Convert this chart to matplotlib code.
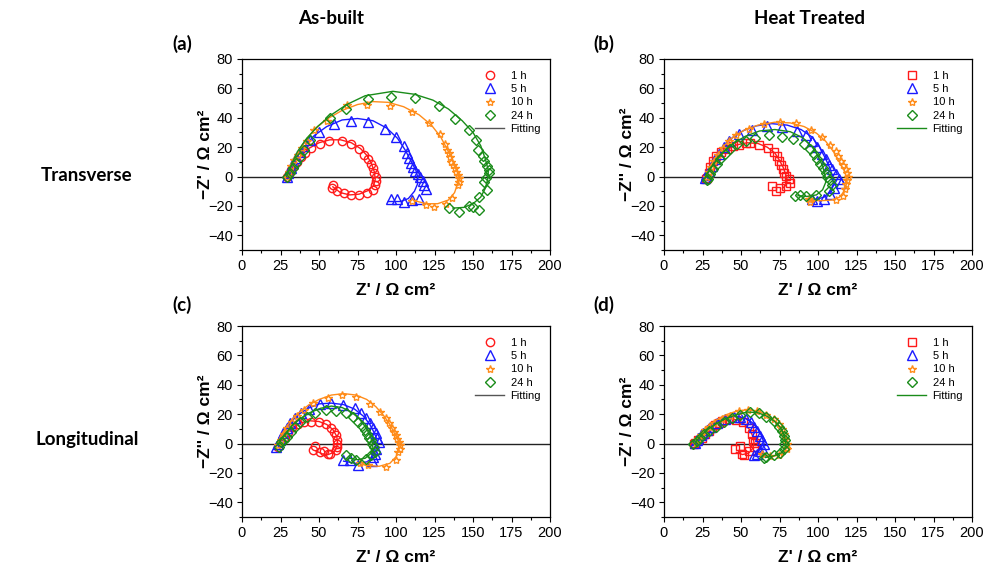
import matplotlib.pyplot as plt
from matplotlib.lines import Line2D
from matplotlib.ticker import MultipleLocator

# ---- (a) As-built, transverse ----
a_1h_x = [29.5, 30.5, 32, 33.5, 35.5, 38, 41, 45, 50.5, 56.5, 65, 71, 76, 79.5, 81.8, 84, 85.2, 86, 86.7, 86.8, 86.5, 85, 81, 76, 71, 66.2, 61.4, 58.2, 59.3]
a_1h_y = [0, 1.5, 4.5, 7, 10, 13, 16, 19.5, 22, 24, 24, 22, 19, 15, 12, 8.5, 5.5, 2.5, 0, -3, -6, -9, -11, -12.5, -12.5, -11.4, -10, -8, -5.7]
a_5h_x = [29, 30, 31.5, 33, 35, 37.5, 40.5, 44, 50, 59.5, 70.5, 82, 93, 100, 105, 107, 108.5, 109.5, 111, 112.3, 114, 115.7, 117.5, 118.5, 119.2, 115, 110.5, 105.5, 100.5, 97]
a_5h_y = [0, 2.5, 5.5, 9, 12.5, 16.5, 20.5, 25, 30.5, 36, 38, 37.2, 32.5, 27, 20.6, 16, 12.5, 9.5, 6.8, 4, 1.8, 0, -3, -5.7, -8.6, -15.5, -16, -17.5, -15.3, -15.3]
a_10h_x = [29, 30.5, 32, 34, 36.5, 39, 42, 46.8, 55, 68.3, 81.3, 95.9, 110.3, 121.3, 128.7, 132, 133, 134.3, 135.1, 136, 136.9, 138, 139, 140, 141.2, 140.7, 140, 136.2, 132.5, 124.4, 119.6, 110.6]
a_10h_y = [0, 3, 7, 11, 15, 19.5, 24, 31.8, 38, 48.4, 48.9, 48.2, 43.6, 36.4, 28.9, 22, 18, 15.8, 13, 10.2, 8, 5.7, 3.4, 1.1, -1.1, -3.4, -6, -14.8, -18.9, -21, -19.3, -16.4]
a_24h_x = [29.5, 31, 33, 35, 37.5, 40, 44, 57.4, 67.3, 81.8, 96.9, 112.4, 128.2, 138.5, 147.6, 151.9, 153, 156.2, 157.3, 159.4, 160.1, 160.5, 158.4, 157.3, 159.4, 154, 153.6, 149.7, 147.6, 141, 134.2]
a_24h_y = [0, 2.5, 5.5, 9, 13, 18, 25, 40, 45.7, 52.6, 54.4, 53.3, 48, 39.3, 32, 24.7, 18.3, 13.7, 10.3, 7.3, 4.5, 2.3, -1.1, -4, -9.1, -13.7, -22.9, -20.6, -20.1, -24, -21.3]
a_1h_fx = [30, 32, 35, 39, 44, 50, 57, 64, 71, 77, 81, 84, 86, 86.5, 85.5, 82, 76, 70, 64, 59]
a_1h_fy = [0, 5, 10, 15, 19.5, 23, 25, 25, 23, 19, 14.5, 9, 3, -2, -6, -9.5, -12, -12.5, -11, -7]
a_5h_fx = [29, 32, 36, 41, 47, 55, 65, 75, 85, 94, 101, 106, 110, 113, 114, 114, 112, 108, 103, 95]
a_5h_fy = [0, 7, 14, 21, 28, 34, 38.5, 39.5, 38, 33, 26, 18, 10, 4, 0, -5, -10, -15, -17, -17]
a_10h_fx = [29, 32, 36, 41, 47, 55, 65, 75, 85, 95, 105, 115, 123, 129, 133, 137, 139.5, 140.5, 140, 138, 134, 127, 120, 112]
a_10h_fy = [0, 8, 16, 24, 32, 39, 45, 49, 51, 50.5, 47.5, 42, 35, 27, 19, 11, 4, 0, -5, -11, -16, -18.5, -18.5, -16.5]
a_24h_fx = [29, 32, 36, 42, 49, 58, 68, 80, 98, 112, 124, 134, 143, 150, 155, 158, 160, 159.5, 158, 155, 150, 144, 137]
a_24h_fy = [0, 8, 17, 26, 34, 42, 49, 55, 58, 56, 52, 46, 38, 30, 21, 12, 4, -2, -8, -14, -18.5, -21, -21.5]

# ---- (b) Heat treated, transverse ----
b_1h_x = [27.5, 28, 28.9, 30, 31.7, 34, 37, 40.8, 44.5, 48.4, 53, 55.6, 61.5, 67.3, 71.2, 73.4, 74.5, 76, 77.3, 78.2, 79.5, 81, 82, 79, 75.6, 73, 70]
b_1h_y = [-2, -0.7, 2.7, 6.2, 10.7, 14, 16.5, 18.7, 20.5, 21.5, 22.5, 23, 21.5, 19.4, 16.9, 14.2, 10.7, 7.8, 5, 2.7, 0.5, -1.8, -4.3, -6.6, -7.8, -10, -6.6]
b_5h_x = [26.7, 27.5, 28.9, 31, 33.2, 36, 38.7, 41.9, 48.4, 57, 66.9, 76.7, 86.4, 91.9, 96.2, 99.5, 102.7, 104.9, 107, 109.2, 111.4, 113.6, 114.7, 110.3, 108.1, 103.8, 99.5, 96.2]
b_5h_y = [-0.7, 1, 3.9, 7.3, 11.9, 15.3, 19.9, 24.5, 29, 32, 34.7, 33.6, 31.3, 28.3, 24.5, 19.9, 15.3, 11.9, 7.8, 5, 1.6, -1.8, -4.6, -7.5, -12.1, -15.5, -16.7, -15.5]
b_10h_x = [27.8, 29, 30.5, 32.5, 35, 38, 42, 47, 55, 64.7, 75.6, 86, 95.5, 102.3, 108.1, 111.4, 113.2, 114.7, 116.4, 117.9, 119, 119.4, 119, 118.3, 117.5, 116.4, 111.4, 95.1, 94]
b_10h_y = [0, 3, 6.5, 10.5, 15, 19.5, 24, 28.5, 32.5, 35.9, 37, 36.3, 31.8, 26.7, 21.5, 17.6, 14.2, 10.7, 7.8, 5, 2.7, 0, -2.3, -5.3, -8.2, -13.3, -16, -17.4, -15]
b_24h_x = [27.8, 28.5, 30, 32.1, 34.3, 36.5, 39.7, 43, 47.3, 53, 59.3, 68, 76.7, 83.8, 90.8, 94.5, 97.3, 99.5, 101.6, 103.4, 104.9, 106, 108, 109.2, 107, 98.4, 92, 88.6, 85.3]
b_24h_y = [-2.5, -1.4, 1.6, 5, 8.5, 11.9, 15.3, 18.7, 22.2, 24.5, 26.3, 28.3, 27.2, 25.6, 22.2, 19, 15.3, 11.9, 8.5, 5.5, 2.7, 0, -2.5, -5.9, -9.8, -12.8, -13.5, -12.8, -13.3]
b_1h_fx = [27, 29, 32, 36, 41, 47, 54, 61, 67, 72, 75, 77.5, 79, 80, 79, 77]
b_1h_fy = [0, 5, 10, 14.5, 18.5, 21.5, 23, 22.5, 20, 16, 11, 6, 1.5, -2.5, -6, -8]
b_5h_fx = [27, 30, 34, 39, 45, 52, 60, 70, 80, 89, 96, 101, 105, 108, 109.5, 110, 108, 104, 99, 93]
b_5h_fy = [0, 7, 14, 21, 27, 31.5, 34.5, 36, 35, 32, 27, 20, 12, 5, 0, -5, -10, -14, -15.5, -15]
b_10h_fx = [27, 30, 34, 39, 45, 52, 61, 72, 82, 91, 99, 105, 110, 114, 117, 118.5, 118.5, 117, 114, 109, 101, 94]
b_10h_fy = [0, 7, 14, 21, 27, 31.5, 35, 37, 36.5, 34, 29.5, 24, 17, 10, 4, 0, -5, -10, -14, -16, -16.5, -16]
b_24h_fx = [27, 30, 34, 39, 45, 53, 62, 72, 82, 90, 96, 100, 103, 104.5, 105, 103, 99, 93, 87]
b_24h_fy = [0, 5, 11, 17, 22.5, 27.5, 31, 32, 30.5, 26.5, 20.5, 14, 7, 1, -4, -9, -12.5, -13.5, -13]

# ---- (c) As-built, longitudinal ----
c_1h_x = [23.5, 25.4, 27.6, 29.7, 32.5, 36.2, 40.5, 44.8, 49.8, 54.5, 57.8, 59.9, 61, 62, 62, 61.7, 61.3, 57, 55.6, 53.4, 50.5, 46.2, 47.6]
c_1h_y = [-2.3, 1.1, 4.6, 8, 11, 13.3, 14.9, 15, 14.9, 13.3, 10.3, 8, 5.7, 2.3, -0.5, -2.5, -4.6, -7.3, -6.9, -5, -5.7, -4.6, -1.6]
c_5h_x = [22.4, 23.5, 24.6, 26.8, 29, 31, 34.3, 38.6, 43.6, 50.5, 58, 65.6, 73.1, 77.5, 80.7, 82.9, 85, 86.7, 87.6, 88.9, 87.2, 86.1, 85, 84.7, 75, 69.9, 65.6]
c_5h_y = [-2.3, 0, 2.3, 6.9, 10.5, 14.2, 17.1, 20.6, 23.3, 27, 27.4, 26.3, 24, 20.6, 17.1, 13.7, 10.3, 6.9, 4.1, 1.1, -3.4, -6.9, -9.1, -12.1, -14.4, -11.4, -11.4]
c_10h_x = [23.5, 25, 27, 29.5, 32.5, 36, 40, 46.2, 55.9, 65.2, 74.2, 82.8, 89.3, 93.6, 95.7, 97.5, 98.4, 99.7, 100.7, 101.8, 102.7, 102.3, 101.2, 100.2, 93.6, 82.1, 76.4]
c_10h_y = [-1, 2.5, 6.5, 10.5, 14.5, 18.5, 22.5, 27.9, 30.9, 32.7, 32, 27, 21.7, 17.1, 13.7, 10.3, 8, 5.7, 3.4, 1.1, -1.1, -3.4, -5.7, -11.4, -16.3, -14.9, -13.5]
c_24h_x = [24.2, 25.5, 27, 28.9, 31.5, 34.5, 37.5, 41.9, 47.2, 54.4, 60.8, 67.3, 72.1, 75.3, 78.1, 79.6, 81.1, 82.4, 83.9, 84.6, 85.4, 86.1, 83.9, 80.7, 74.2, 71, 67.7]
c_24h_y = [-2.3, 1, 2.5, 4.6, 8, 11.5, 14.9, 18.3, 20.6, 22.9, 22.4, 20.6, 18.3, 14.9, 11.9, 9.1, 6.4, 4.1, 2.3, 0, -2.3, -5.7, -8, -10.3, -11, -9.6, -8]
c_1h_fx = [24, 26, 29, 33, 38, 44, 50, 55, 59, 61.5, 62, 61.5, 59.5, 56, 52, 48]
c_1h_fy = [0, 3, 7, 11, 14, 15.5, 15, 13, 9.5, 5, 1, -3, -6, -7.5, -7, -5]
c_5h_fx = [23, 25, 28, 32, 37, 43, 50, 58, 66, 73, 79, 83, 86, 88, 88, 86, 81, 74, 66]
c_5h_fy = [0, 5, 10, 15, 20, 24, 27, 27.5, 26.5, 23.5, 18.5, 13, 7, 1.5, -4, -9, -12.5, -13.5, -12]
c_10h_fx = [23, 25, 28, 32, 37, 43, 50, 58, 66, 74, 81, 87, 92, 96, 99, 101.5, 102, 100, 96, 89, 82, 77]
c_10h_fy = [0, 5, 10, 16, 21, 26, 30, 33, 34, 33, 30, 25, 19, 13, 7, 2, -3, -9, -13.5, -15.5, -15, -14]
c_24h_fx = [24, 26, 29, 33, 38, 44, 51, 58, 65, 71, 76, 80, 83, 84.5, 85, 83.5, 80, 75, 70]
c_24h_fy = [0, 4, 8, 13, 17, 21, 24, 25.5, 24.5, 21.5, 17, 11.5, 6, 1, -3, -7, -10, -11, -10]

# ---- (d) Heat treated, longitudinal ----
d_1h_x = [19.5, 20.2, 22, 24.5, 26.5, 28.9, 31, 33.2, 35.5, 37.6, 41.9, 46.9, 51.2, 54.9, 57.1, 57.8, 59.3, 58.2, 55.5, 52.1, 50.6, 46.3, 49.5]
d_1h_y = [0, 0.7, 2.5, 4.1, 6.5, 8.7, 10.5, 12.8, 14, 15.5, 16.7, 16, 14.4, 10.5, 6.4, 1.8, 0.7, -2.3, -5, -7.8, -6.9, -3.9, -1.6]
d_5h_x = [20.2, 21.3, 22.4, 24, 25.6, 28, 30, 34.3, 39.7, 45.6, 49.5, 53.4, 56.5, 58.6, 60.4, 62.1, 63.6, 65.1, 63.6, 62.5, 60.4, 58.2]
d_5h_y = [0.7, 2.5, 4.1, 6, 7.5, 9.5, 11, 13.7, 16.7, 18.3, 17.8, 16.7, 14.4, 11.4, 8.7, 5.3, 2.3, -0.5, -2.7, -5, -7.3, -7.8]
d_10h_x = [20.5, 22, 24, 26.5, 29, 32.5, 37.6, 43, 48.4, 54.3, 60.4, 66.4, 71.2, 74.5, 76.7, 78.2, 78.8, 80, 79.5, 79.9, 74.5, 69, 63.6]
d_10h_y = [0.5, 3, 6, 9, 11.5, 14, 16.7, 19, 22.4, 22.9, 21.9, 19.7, 16.7, 13.3, 9.8, 6.4, 3, 0, -2.7, -3.9, -7.8, -8.5, -7.3]
d_24h_x = [19.1, 21.7, 23.5, 26, 28.9, 33.5, 38.7, 44, 49.5, 55.6, 61.5, 66.4, 71.2, 74.5, 76.7, 78.2, 78.8, 78.2, 77.7, 75.5, 71.2, 66.4, 64.7]
d_24h_y = [0, 1.8, 4, 6.5, 8.7, 11.5, 14.4, 17.4, 19.7, 21.3, 20.6, 18.3, 15.1, 11.4, 8.2, 5.3, 2.3, -0.5, -3.9, -6.2, -7.8, -9.1, -9.6]
d_1h_fx = [19, 21, 24, 28, 33, 38, 43, 48, 52.5, 56, 58, 58.5, 57.5, 55, 51, 47]
d_1h_fy = [0, 3, 6.5, 10, 13.5, 16, 17, 16, 13, 9, 4, 0, -3.5, -6.5, -7.5, -6]
d_5h_fx = [20, 22, 25, 29, 34, 40, 46, 52, 57, 61, 63.5, 65, 64, 61.5, 58]
d_5h_fy = [0, 4, 8, 11.5, 15, 17.5, 18.5, 17.5, 14.5, 10, 5, 0, -4, -7, -8]
d_10h_fx = [20, 22, 25, 29, 34, 40, 47, 54, 61, 67, 72, 76, 78.5, 79.5, 79, 76.5, 72, 67, 63]
d_10h_fy = [0, 4, 8, 12, 16, 19.5, 22, 23, 22, 19.5, 15.5, 10.5, 5, 0, -4, -7, -8.5, -8.5, -7.5]
d_24h_fx = [20, 22, 25, 29, 34, 40, 47, 54, 61, 67, 72, 75.5, 78, 79, 78.5, 76, 71, 66]
d_24h_fy = [0, 3, 6.5, 10, 13.5, 17, 19.5, 21.5, 21, 18.5, 15, 11, 6, 1, -3.5, -6.5, -8.5, -9.5]

labels = ['1 h', '5 h', '10 h', '24 h']
colors = ['#ff1a1a', '#1a1aff', '#ff8c1a', '#1a8c1a']

plt.rcParams['font.family'] = ['Liberation Sans', 'DejaVu Sans']
W, H = 993, 570
fig = plt.figure(figsize=(W / 100, H / 100), dpi=100)


def panel(left, top, series, fits, first_marker, ylab, fit_color):
    ax = fig.add_axes([left / W, 1 - (top + 191) / H, 308 / W, 191 / H])
    markers = [first_marker, '^', '*', 'D']
    sizes = [6, 6.5, 6, 5]
    handles = []
    for (x, y), (fx, fy), m, ms, c, lab in zip(series, fits, markers, sizes, colors, labels):
        ax.plot(fx, fy, '-', color=c, lw=1)
        ax.plot(x, y, m, ls='none', mfc='none', mec=c, mew=1, ms=ms)
        handles.append(Line2D([], [], marker=m, ls='none', mfc='none', mec=c, mew=1, ms=ms, label=lab))
    handles.append(Line2D([], [], color=fit_color, lw=1, label='Fitting'))
    ax.axhline(0, color='#222222', lw=1, zorder=0)
    ax.set_xlim(0, 200)
    ax.set_ylim(-50, 80)
    ax.xaxis.set_major_locator(MultipleLocator(25))
    ax.xaxis.set_minor_locator(MultipleLocator(12.5))
    ax.yaxis.set_minor_locator(MultipleLocator(10))
    ax.set_yticks([-40, -20, 0, 20, 40, 60, 80])
    ax.tick_params(which='major', direction='out', length=3.5, width=0.8, labelsize=10.5, pad=3)
    ax.tick_params(which='minor', direction='out', length=2, width=0.8)
    for s in ax.spines.values():
        s.set_linewidth(0.9)
    ax.set_xlabel("Z' / \u03a9 cm\u00b2", fontsize=12.5, fontweight='bold', va='center')
    ax.xaxis.set_label_coords(0.5, -0.21)
    ax.set_ylabel(ylab, fontsize=12.5, fontweight='bold', va='center')
    ax.yaxis.set_label_coords(-0.12, 0.5)
    ax.legend(handles=handles, loc='upper right', bbox_to_anchor=(1.0, 0.985), frameon=False,
              fontsize=8, handlelength=2.6, handletextpad=0.6, labelspacing=0.3, borderpad=0.3)
    return ax


yl2 = "\u2212Z'' / \u03a9 cm\u00b2"
yl1 = "\u2212Z' / \u03a9 cm\u00b2"

panel(242, 59, [(a_1h_x, a_1h_y), (a_5h_x, a_5h_y), (a_10h_x, a_10h_y), (a_24h_x, a_24h_y)],
      [(a_1h_fx, a_1h_fy), (a_5h_fx, a_5h_fy), (a_10h_fx, a_10h_fy), (a_24h_fx, a_24h_fy)],
      'o', yl1, '#555555')
panel(664, 59, [(b_1h_x, b_1h_y), (b_5h_x, b_5h_y), (b_10h_x, b_10h_y), (b_24h_x, b_24h_y)],
      [(b_1h_fx, b_1h_fy), (b_5h_fx, b_5h_fy), (b_10h_fx, b_10h_fy), (b_24h_fx, b_24h_fy)],
      's', yl2, '#1a8c1a')
panel(242, 326, [(c_1h_x, c_1h_y), (c_5h_x, c_5h_y), (c_10h_x, c_10h_y), (c_24h_x, c_24h_y)],
      [(c_1h_fx, c_1h_fy), (c_5h_fx, c_5h_fy), (c_10h_fx, c_10h_fy), (c_24h_fx, c_24h_fy)],
      'o', yl2, '#555555')
panel(664, 326, [(d_1h_x, d_1h_y), (d_5h_x, d_5h_y), (d_10h_x, d_10h_y), (d_24h_x, d_24h_y)],
      [(d_1h_fx, d_1h_fy), (d_5h_fx, d_5h_fy), (d_10h_fx, d_10h_fy), (d_24h_fx, d_24h_fy)],
      's', yl1, '#1a8c1a')

hfont = ['Lato', 'DejaVu Sans']
fig.text(331 / W, 1 - 18 / H, 'As-built', ha='center', va='center', fontsize=13.5, fontweight='bold', family=hfont)
fig.text(810 / W, 1 - 18 / H, 'Heat Treated', ha='center', va='center', fontsize=13.5, fontweight='bold', family=hfont)
fig.text(87 / W, 1 - 175 / H, 'Transverse', ha='center', va='center', fontsize=13.5, fontweight='bold', family=hfont)
fig.text(87 / W, 1 - 440 / H, 'Longitudinal', ha='center', va='center', fontsize=13.5, fontweight='bold', family=hfont)
for lab, x, y in [('(a)', 182, 44), ('(b)', 604, 44), ('(c)', 182, 305), ('(d)', 604, 305)]:
    fig.text(x / W, 1 - y / H, lab, ha='center', va='center', fontsize=13.5, fontweight='bold', family=hfont)

fig.savefig('out.png', dpi=100)
